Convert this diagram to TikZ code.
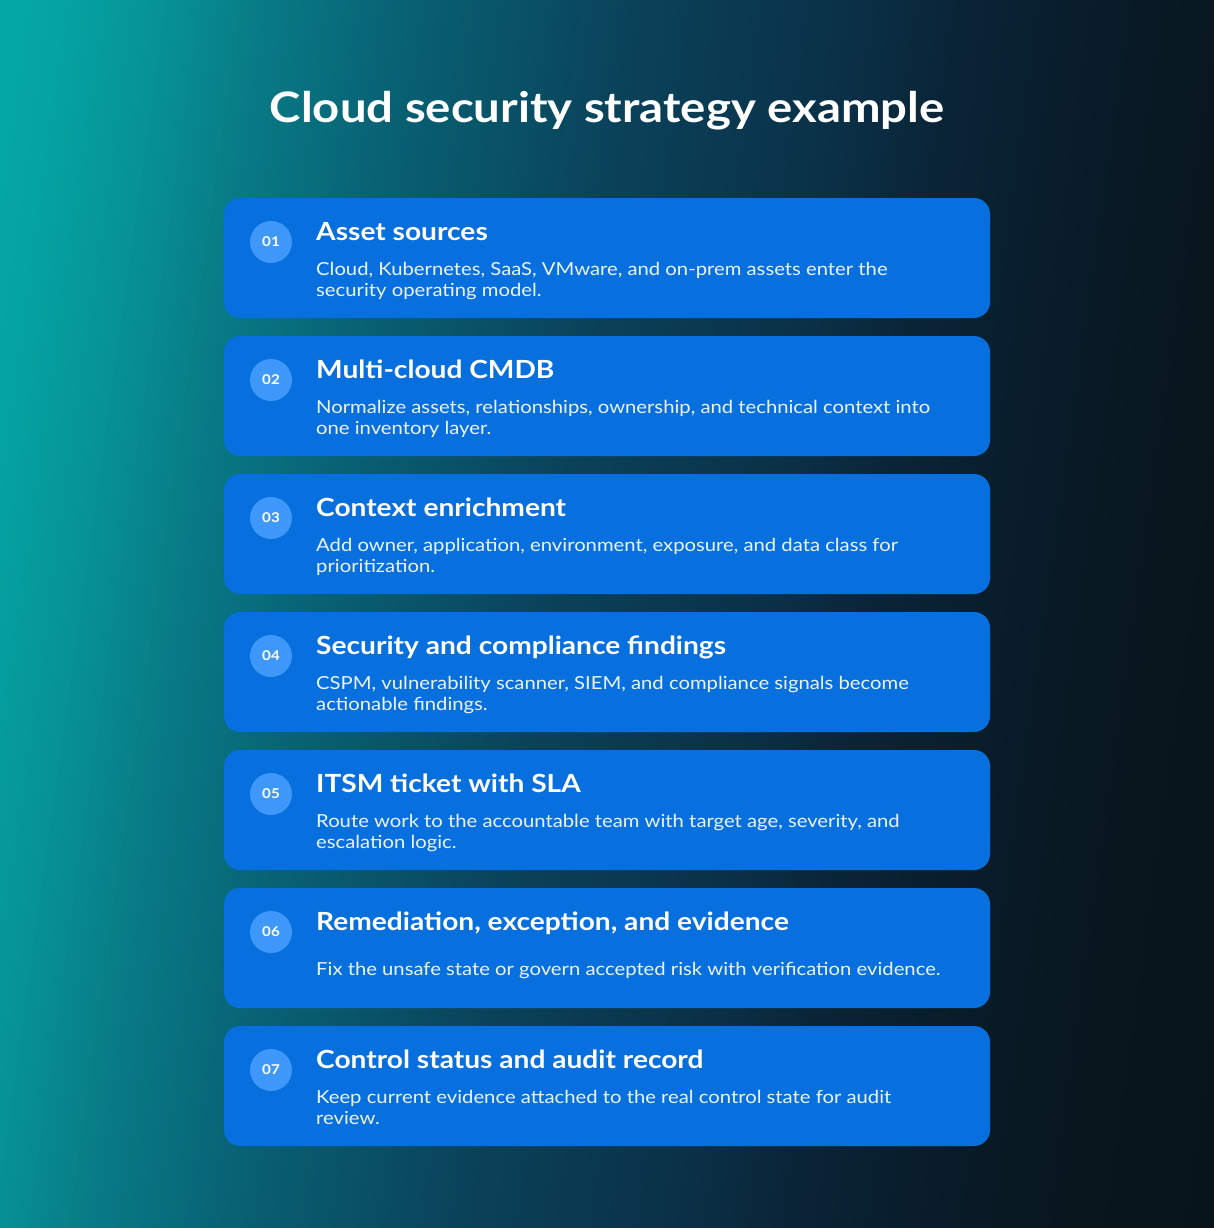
\documentclass[tikz,border=0pt]{standalone}
\usepackage{fontspec}
\setmainfont{Lato}[FakeStretch=1.125]
\definecolor{cardblue}{RGB}{8,111,222}
\definecolor{circblue}{RGB}{62,152,250}
\definecolor{bodytxt}{RGB}{235,244,255}
\definecolor{gA}{RGB}{5,168,168}
\definecolor{gB}{RGB}{5,164,164}
\definecolor{gC}{RGB}{6,145,150}
\definecolor{gD}{RGB}{8,125,135}
\definecolor{gE}{RGB}{8,97,116}
\definecolor{gF}{RGB}{10,66,90}
\definecolor{gG}{RGB}{10,47,70}
\definecolor{gH}{RGB}{10,37,56}
\definecolor{gI}{RGB}{9,28,42}
\definecolor{gJ}{RGB}{8,22,30}
\definecolor{gK}{RGB}{8,20,27}
\tikzset{
  card/.style={fill=cardblue, rounded corners=16pt, draw=none},
  numcirc/.style={circle, fill=circblue, minimum size=42pt, inner sep=0pt, text=white, font=\bfseries\fontsize{13.5}{13.5}\selectfont},
  cardtitle/.style={anchor=base west, inner sep=0pt, text=white, font=\bfseries\fontsize{25}{25}\selectfont},
  cardbody/.style={anchor=base west, inner sep=0pt, text=bodytxt, font=\fontsize{18}{21}\selectfont},
  maintitle/.style={anchor=base, inner sep=0pt, text=white, font=\bfseries\fontsize{42}{42}\selectfont}
}
\newcommand\mycard[5]{%
  \path[card] (224,{198+138*(#1-1)}) rectangle (990,{318+138*(#1-1)});
  \node[numcirc] (n#1) at (271,{242+138*(#1-1)}) {#2};
  \node[cardtitle] (t#1) at (316,{240+138*(#1-1)}) {#3};
  \node[cardbody] (da#1) at (316,{275+138*(#1-1)}) {#4};
  \node[cardbody] (db#1) at (316,{296+138*(#1-1)}) {#5};
}
\newcommand\mycardone[4]{%
  \path[card] (224,{198+138*(#1-1)}) rectangle (990,{318+138*(#1-1)});
  \node[numcirc] (n#1) at (271,{242+138*(#1-1)}) {#2};
  \node[cardtitle] (t#1) at (316,{240+138*(#1-1)}) {#3};
  \node[cardbody] (da#1) at (316,{285+138*(#1-1)}) {#4};
}
\begin{document}
\begin{tikzpicture}[x=1pt,y=-1pt]
\useasboundingbox (0,0) rectangle (1214,1228);
\begin{scope}
\clip (0,0) rectangle (1214,1228);
\foreach \ta/\tb/\ca/\cb in {-8/60/gA/gB, 60/165/gB/gC, 165/250/gC/gD, 250/400/gD/gE, 400/630/gE/gF, 630/858/gF/gG, 858/942/gG/gH, 942/1086/gH/gI, 1086/1230/gI/gJ, 1230/1385/gJ/gK}{
  \pgfmathtruncatemacro\nn{ceil((\tb-\ta)/6)}
  \foreach \j in {1,...,\nn}{
    \pgfmathsetmacro\sa{\ta+(\j-1)*(\tb-\ta)/\nn}
    \pgfmathsetmacro\sb{\ta+\j*(\tb-\ta)/\nn}
    \pgfmathtruncatemacro\pp{round(100*(\j-0.5)/\nn)}
    \fill[\cb!\pp!\ca] ({(\sa+1.392)/0.9903},-10) -- ({(\sb+1.392)/0.9903+0.7},-10) -- ({(\sb-172.6)/0.9903+0.7},1240) -- ({(\sa-172.6)/0.9903},1240) -- cycle;
  }
}
\end{scope}
\node[maintitle] (title) at (607,123) {Cloud security strategy example};
\mycard{1}{01}{Asset sources}{Cloud, Kubernetes, SaaS, VMware, and on-prem assets enter the}{security operating model.}
\mycard{2}{02}{Multi-cloud CMDB}{Normalize assets, relationships, ownership, and technical context into}{one inventory layer.}
\mycard{3}{03}{Context enrichment}{Add owner, application, environment, exposure, and data class for}{prioritization.}
\mycard{4}{04}{Security and compliance findings}{CSPM, vulnerability scanner, SIEM, and compliance signals become}{actionable findings.}
\mycard{5}{05}{ITSM ticket with SLA}{Route work to the accountable team with target age, severity, and}{escalation logic.}
\mycardone{6}{06}{Remediation, exception, and evidence}{Fix the unsafe state or govern accepted risk with verification evidence.}
\mycard{7}{07}{Control status and audit record}{Keep current evidence attached to the real control state for audit}{review.}
\end{tikzpicture}
\end{document}
